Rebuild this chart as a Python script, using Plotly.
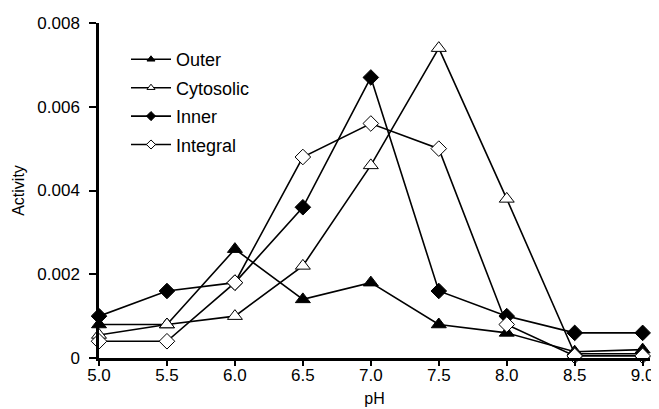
import plotly.graph_objects as go

ph = [5.0, 5.5, 6.0, 6.5, 7.0, 7.5, 8.0, 8.5, 9.0]
outer = [0.0008, 0.0008, 0.0026, 0.0014, 0.0018, 0.0008, 0.0006, 0.00015, 0.0002]
cytosolic = [0.00055, 0.0008, 0.0010, 0.0022, 0.0046, 0.0074, 0.0038, 0.0001, 0.0001]
inner = [0.0010, 0.0016, 0.0018, 0.0036, 0.0067, 0.0016, 0.0010, 0.0006, 0.0006]
integral = [0.0004, 0.0004, 0.0018, 0.0048, 0.0056, 0.0050, 0.0008, 0.00005, 0.00005]

y_ticks = [0, 0.002, 0.004, 0.006, 0.008]
y_ticktext = ["0", "0.002", "0.004", "0.006", "0.008"]
x_ticks = [5.0, 5.5, 6.0, 6.5, 7.0, 7.5, 8.0, 8.5, 9.0]

FONT = "Liberation Sans, Arial, sans-serif"

series = [
    ("Outer", outer, "triangle-up", "black", 13),
    ("Cytosolic", cytosolic, "triangle-up", "white", 13),
    ("Inner", inner, "diamond", "black", 12),
    ("Integral", integral, "diamond", "white", 12),
]

fig = go.Figure()
for i, (name, vals, sym, fill, size) in enumerate(series):
    fig.add_trace(go.Scatter(
        x=ph, y=vals, name=name, mode="lines+markers",
        showlegend=False,
        line=dict(color="black", width=1.6),
        marker=dict(symbol=sym, size=size, color=fill,
                    line=dict(color="black", width=1)),
        cliponaxis=False,
    ))
# legend entries with small markers, as in the reference (placed on the
# overlay axis so that the axis that draws the line and tick marks exists)
for i, (name, vals, sym, fill, size) in enumerate(series):
    fig.add_trace(go.Scatter(
        x=[None], y=[None], name=name, mode="lines+markers",
        xaxis="x2", legendgroup=f"g{i}",
        line=dict(color="black", width=1.6),
        marker=dict(symbol=sym, size=7, color=fill,
                    line=dict(color="black", width=1)),
    ))

# page body has an 8px margin, so the figure is sized to fill the rest
fig.update_layout(
    width=651, height=401,
    margin=dict(l=91, r=9, t=15, b=51),
    paper_bgcolor="white", plot_bgcolor="white",
    font=dict(family=FONT, size=17, color="black"),
    showlegend=True,
    legend=dict(x=0.049, y=0.946, xanchor="left", yanchor="top",
                bgcolor="rgba(0,0,0,0)", font=dict(size=18),
                tracegroupgap=2, itemwidth=40),
    xaxis=dict(
        range=[5.0, 9.054], tickvals=x_ticks, tickformat=".1f", automargin=False,
        showgrid=False, zeroline=False, showline=False, ticks="",
        ticklabelstandoff=5,
        title=dict(text="pH", standoff=8, font=dict(size=16)),
    ),
    # axis line and tick marks
    xaxis2=dict(
        overlaying="x", matches="x", anchor="y", side="bottom",
        range=[5.0, 9.054], tickvals=x_ticks, showticklabels=False,
        ticks="outside", ticklen=5, tickwidth=2, tickcolor="black",
        showgrid=False, zeroline=False, showline=True, linecolor="black",
        linewidth=2.5, automargin=False,
    ),
)
fig.update_yaxes(
    range=[0, 0.008], tickvals=y_ticks, ticktext=y_ticktext, automargin=False,
    showgrid=False, zeroline=False, showline=True, linecolor="black", linewidth=2.5,
    ticks="outside", ticklen=7, tickwidth=2, tickcolor="black",
    ticklabelstandoff=6,
    title=dict(text="Activity", standoff=9, font=dict(size=16)),
)
fig.write_html("out.html")
